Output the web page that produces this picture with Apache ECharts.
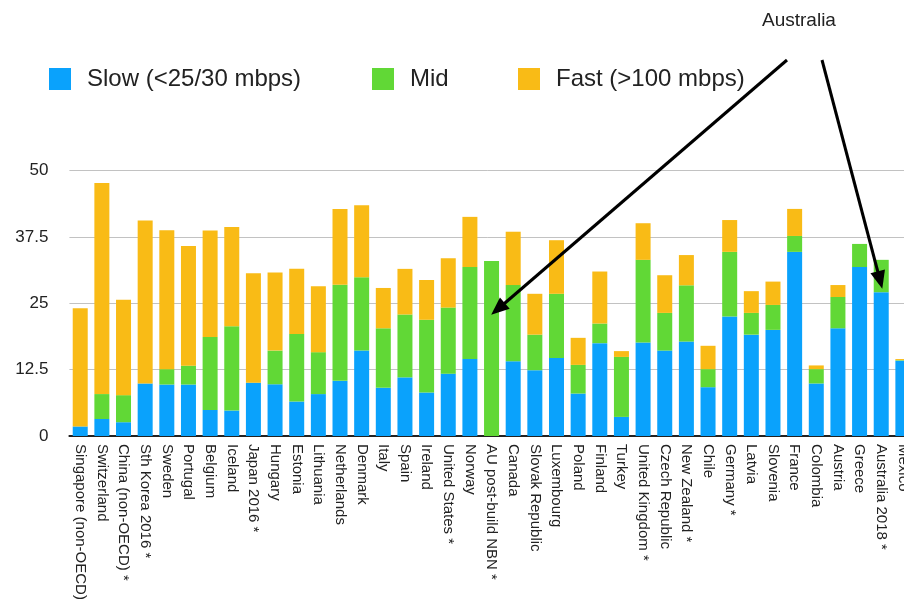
<!DOCTYPE html>
<html>
<head>
<meta charset="utf-8">
<script src="https://cdn.jsdelivr.net/npm/echarts@6/dist/echarts.min.js"></script>
<style>
html,body{margin:0;padding:0;background:#fff;}
#chart{width:904px;height:614px;}
</style>
</head>
<body>
<div id="chart"></div>
<script>
const categories = ["Singapore (non-OECD)","Switzerland","China (non-OECD) *","Sth Korea 2016 *","Sweden","Portugal","Belgium","Iceland","Japan 2016 *","Hungary","Estonia","Lithuania","Netherlands","Denmark","Italy","Spain","Ireland","United States *","Norway","AU post-build NBN *","Canada","Slovak Republic","Luxembourg","Poland","Finland","Turkey","United Kingdom *","Czech Republic","New Zealand *","Chile","Germany *","Latvia","Slovenia","France","Colombia","Austria","Greece","Australia 2018 *","Mexico"];
const slow = [1.8,3.2,2.6,9.9,9.7,9.7,4.9,4.8,10.05,9.75,6.5,7.9,10.4,16.1,9.1,11.05,8.2,11.75,14.5,0,14.1,12.4,14.7,8.0,17.5,3.6,17.6,16.1,17.8,9.2,22.5,19.1,20.0,34.7,9.9,20.3,31.85,27.1,14.2];
const mid  = [0,4.7,5.1,0,2.9,3.55,13.75,15.9,0,6.35,12.7,7.9,18.1,13.8,11.2,11.85,13.7,12.45,17.35,33.0,14.35,6.7,12.1,5.4,3.7,11.3,15.6,7.1,10.6,3.4,12.2,4.1,4.7,3.0,2.7,5.9,4.35,6.1,0.1];
const fast = [22.3,39.8,18.0,30.7,26.2,22.55,20.1,18.7,20.6,14.7,12.3,12.4,14.3,13.6,7.6,8.6,7.5,9.3,9.45,0,10.05,7.7,10.1,5.1,9.8,1.1,6.9,7.1,5.7,4.4,6.0,4.1,4.4,5.1,0.7,2.25,0,0,0.2];
const yTicks = [0,12.5,25,37.5,50];
const seriesNames = ["Slow (<25/30 mbps)","Mid","Fast (>100 mbps)"];
const colors = ["#0aa2fc","#61d836","#f9bb16"];

const chart = echarts.init(document.getElementById('chart'), null, {renderer:'canvas'});
const FONT = "'Liberation Sans', Arial, Helvetica, sans-serif";

function legend(i, left){
  return {
    data:[seriesNames[i]], left:left, top:62, itemWidth:22, itemHeight:22,
    icon:'rect', selectedMode:false,
    textStyle:{fontFamily:FONT,fontSize:24,color:'#222',padding:[0,0,0,11]}
  };
}

chart.setOption({
  animation:false,
  color:colors,
  legend:[legend(0,44),legend(1,367),legend(2,513)],
  grid:{left:69.4,width:844.3,top:170.7,height:265.3,containLabel:false,outerBoundsMode:'none'},
  xAxis:{
    type:'category', data:categories,
    axisLine:{show:true,lineStyle:{color:'#222',width:2}},
    axisTick:{show:false},
    axisLabel:{interval:0,rotate:-90,margin:8,fontFamily:FONT,fontSize:15,color:'#222'}
  },
  yAxis:{
    type:'value', min:0, max:50, interval:12.5,
    axisLine:{show:false}, axisTick:{show:false},
    splitLine:{lineStyle:{color:'#c2c2c2',width:1}},
    axisLabel:{margin:21,fontFamily:FONT,fontSize:17,color:'#222',
      formatter:function(v){return yTicks.indexOf(v)>=0?String(v):'';}}
  },
  series:[
    {name:seriesNames[0],type:'bar',stack:'a',barWidth:15,data:slow,itemStyle:{color:colors[0]}},
    {name:seriesNames[1],type:'bar',stack:'a',barWidth:15,data:mid,itemStyle:{color:colors[1]}},
    {name:seriesNames[2],type:'bar',stack:'a',barWidth:15,data:fast,itemStyle:{color:colors[2]},
      markLine:{silent:true,symbol:['none','triangle'],symbolSize:[15,18],
        lineStyle:{color:'#000',width:3,type:'solid'},label:{show:false},
        data:[[{x:787,y:60},{x:498,y:309}],[{x:822,y:60},{x:880,y:280}]]}}
  ],
  graphic:[
    {type:'text',left:762,top:11,style:{text:'Australia',font:"19px 'Liberation Sans', Arial, sans-serif",fill:'#222'}}
  ]
});
</script>
</body>
</html>
